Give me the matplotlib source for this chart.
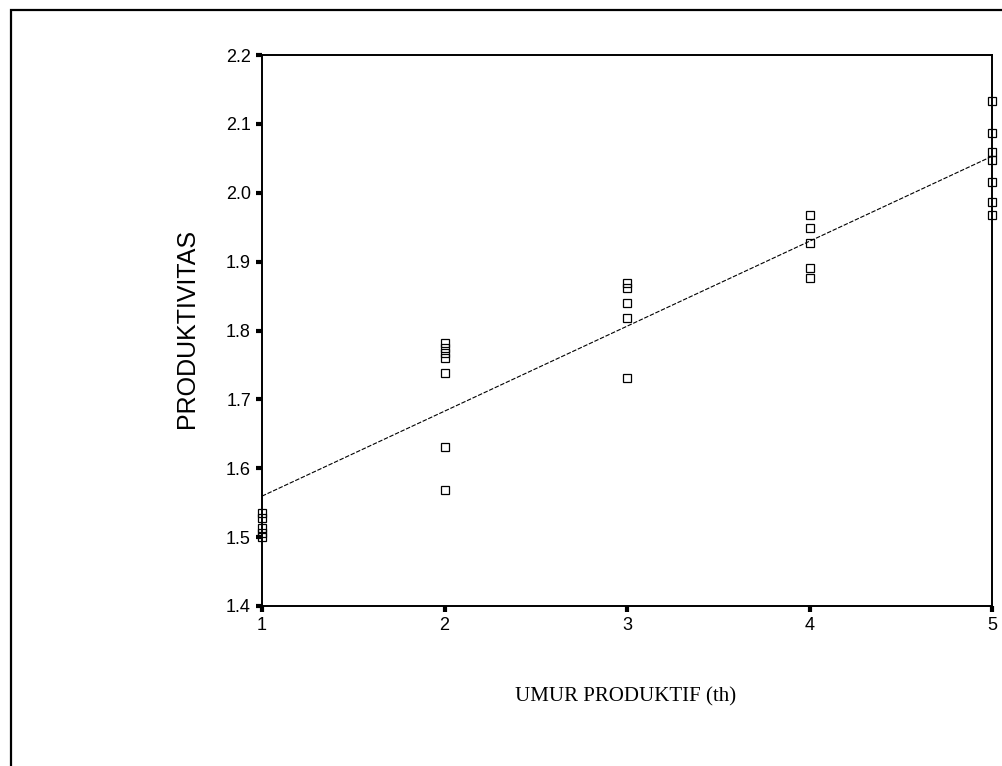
import numpy as np
import matplotlib.pyplot as plt
from matplotlib.patches import Rectangle

# umur produktif (tahun) dan produktivitas
umur = [1, 1, 1, 1, 1,
        2, 2, 2, 2, 2, 2, 2,
        3, 3, 3, 3, 3,
        4, 4, 4, 4, 4,
        5, 5, 5, 5, 5, 5, 5]
produktivitas = [1.535, 1.528, 1.513, 1.506, 1.500,
                 1.782, 1.774, 1.767, 1.760, 1.738, 1.631, 1.569,
                 1.869, 1.862, 1.840, 1.818, 1.731,
                 1.967, 1.949, 1.927, 1.891, 1.876,
                 2.133, 2.087, 2.059, 2.047, 2.015, 1.986, 1.967]
xticks = [1, 2, 3, 4, 5]
yticks = [1.4, 1.5, 1.6, 1.7, 1.8, 1.9, 2.0, 2.1, 2.2]

W, H = 1002, 766
fig = plt.figure(figsize=(W / 100, H / 100), dpi=100)
fig.patches.append(Rectangle((11 / W, -0.1), 1.2, 1 - 10 / H + 0.1,
                             transform=fig.transFigure, fill=False,
                             edgecolor='black', linewidth=1.6))

ax = fig.add_axes([262 / W, 1 - 606 / H, (992 - 262) / W, (606 - 55) / H])

x = np.array(umur, dtype=float)
y = np.array(produktivitas)
ax.plot(x, y, linestyle='None', marker='s', markersize=5.5,
        markerfacecolor='none', markeredgecolor='black', markeredgewidth=0.9,
        clip_on=False)

b, a = np.polyfit(x, y, 1)
xs = np.array([1.0, 5.0])
ax.plot(xs, a + b * xs, color='black', linewidth=0.8, linestyle=(0, (4, 1.5)))

ax.set_xlim(1, 5)
ax.set_ylim(1.4, 2.2)
ax.set_xticks(xticks)
ax.set_xticklabels([str(t) for t in xticks])
ax.set_yticks(yticks)
ax.set_yticklabels(['%.1f' % t for t in yticks])

for s in ax.spines.values():
    s.set_linewidth(1.4)
ax.tick_params(direction='out', length=4, width=3, pad=4,
               labelsize=13, labelfontfamily='Liberation Sans')

fig.text(187 / W, 1 - 328 / H, 'PRODUKTIVITAS', rotation=90, ha='center',
         va='center', fontsize=18, family='Liberation Sans')
fig.text(626 / W, 1 - 697 / H, 'UMUR PRODUKTIF (th)', ha='center',
         va='center', fontsize=15, family='Liberation Serif')

fig.savefig('out.png', dpi=100)
